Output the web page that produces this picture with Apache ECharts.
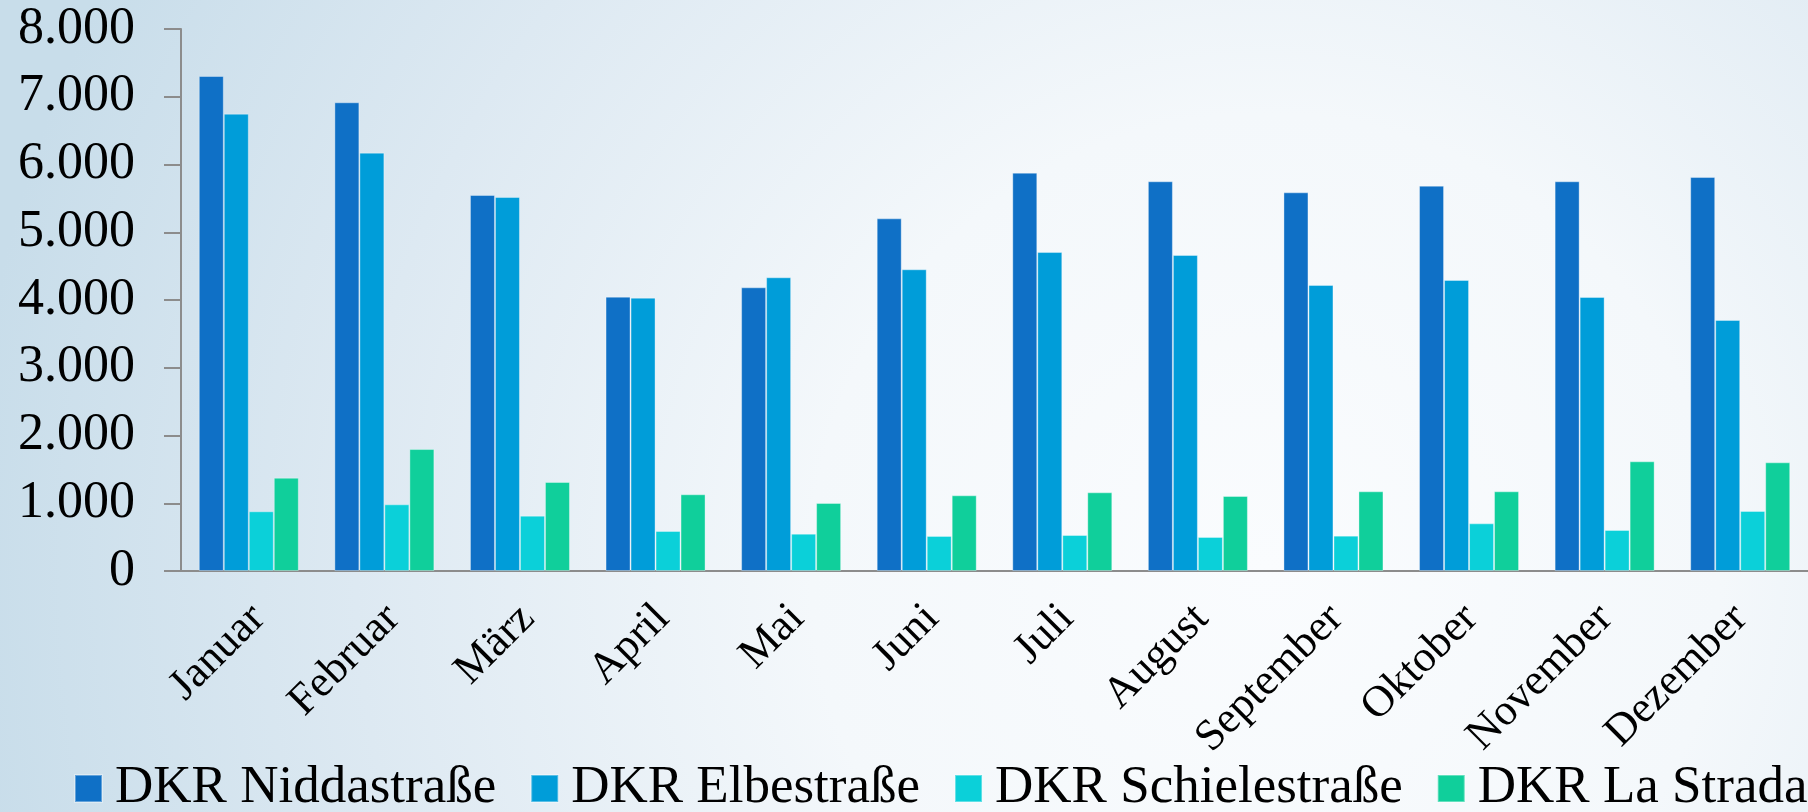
<!DOCTYPE html>
<html>
<head>
<meta charset="utf-8">
<title>DKR Monatswerte</title>
<script src="https://cdn.jsdelivr.net/npm/echarts@6/dist/echarts.min.js"></script>
<style>
  html, body { margin: 0; padding: 0; }
  #bar-chart { width: 1808px; height: 812px; }
</style>
</head>
<body>
<div id="bar-chart"></div>
<script>
var months = ["Januar", "Februar", "März", "April", "Mai", "Juni", "Juli", "August", "September", "Oktober", "November", "Dezember"];
var seriesNames = ["DKR Niddastraße", "DKR Elbestraße", "DKR Schielestraße", "DKR La Strada"];
var niddastrasse = [7306, 6918, 5550, 4049, 4187, 5205, 5879, 5752, 5589, 5687, 5752, 5815];
var elbestrasse = [6750, 6175, 5520, 4034, 4335, 4453, 4708, 4664, 4221, 4295, 4044, 3705];
var schielestrasse = [881, 984, 817, 590, 551, 517, 531, 502, 521, 703, 605, 886];
var laStrada = [1377, 1800, 1314, 1132, 1004, 1117, 1161, 1107, 1176, 1176, 1619, 1604];
var yMin = 0, yMax = 8000, yStep = 1000;

var barColors = ["#0f70c6", "#009dd9", "#0bd0d9", "#10cf9b"];
var font = "'Liberation Serif', 'Times New Roman', serif";
var axisGrey = "#8c8c8c";

function thousands(v) {
    return String(v).replace(/\B(?=(\d{3})+(?!\d))/g, ".");
}

function bar(name, values) {
    return {
        name: name,
        type: "bar",
        barWidth: 25,
        barGap: "0%",
        itemStyle: {
            borderColor: "rgba(255,255,255,0.35)",
            borderWidth: 1
        },
        data: values
    };
}

var dom = document.getElementById("bar-chart");
var myChart = echarts.init(dom, null, { renderer: "canvas" });

// second grid only carries the month labels, nudged 10px right like the original
var option = {
    animation: false,
    backgroundColor: {
        type: "radial",
        x: 0.7,
        y: 0.7,
        r: 1.6,
        colorStops: [
            { offset: 0, color: "#fafcfe" },
            { offset: 0.35, color: "#f4f8fb" },
            { offset: 0.7, color: "#dde9f2" },
            { offset: 1, color: "#c8ddea" }
        ]
    },
    color: barColors,
    grid: [
        { left: 181, right: -13, top: 29, bottom: 241 },
        { left: 191, right: -23, top: 29, bottom: 241 }
    ],
    legend: {
        data: seriesNames,
        left: 74,
        top: 762,
        padding: 0,
        icon: "rect",
        itemWidth: 27,
        itemHeight: 27,
        itemGap: 34,
        textStyle: {
            fontFamily: font,
            fontSize: 53,
            color: "#000",
            padding: [0, 0, 0, 8]
        }
    },
    xAxis: [{
        type: "category",
        data: months,
        axisLine: { lineStyle: { color: axisGrey, width: 2 } },
        axisTick: { length: 13, lineStyle: { color: axisGrey, width: 2 } },
        axisLabel: { show: false }
    }, {
        type: "category",
        gridIndex: 1,
        data: months,
        axisLine: { show: false },
        axisTick: { show: false },
        axisLabel: {
            rotate: 45,
            margin: 41,
            interval: 0,
            fontFamily: font,
            fontSize: 44,
            color: "#000"
        }
    }],
    yAxis: [{
        type: "value",
        min: yMin,
        max: yMax,
        interval: yStep,
        splitLine: { show: false },
        axisLine: { show: true, lineStyle: { color: axisGrey, width: 2 } },
        axisTick: { show: true, length: 17, lineStyle: { color: axisGrey, width: 2 } },
        axisLabel: {
            margin: 46,
            fontFamily: font,
            fontSize: 52,
            color: "#000",
            formatter: thousands
        }
    }, {
        type: "value",
        gridIndex: 1,
        min: yMin,
        max: yMax,
        show: false
    }],
    series: [
        bar(seriesNames[0], niddastrasse),
        bar(seriesNames[1], elbestrasse),
        bar(seriesNames[2], schielestrasse),
        bar(seriesNames[3], laStrada)
    ]
};

option && "object" == typeof option && myChart.setOption(option, true);
</script>
</body>
</html>
